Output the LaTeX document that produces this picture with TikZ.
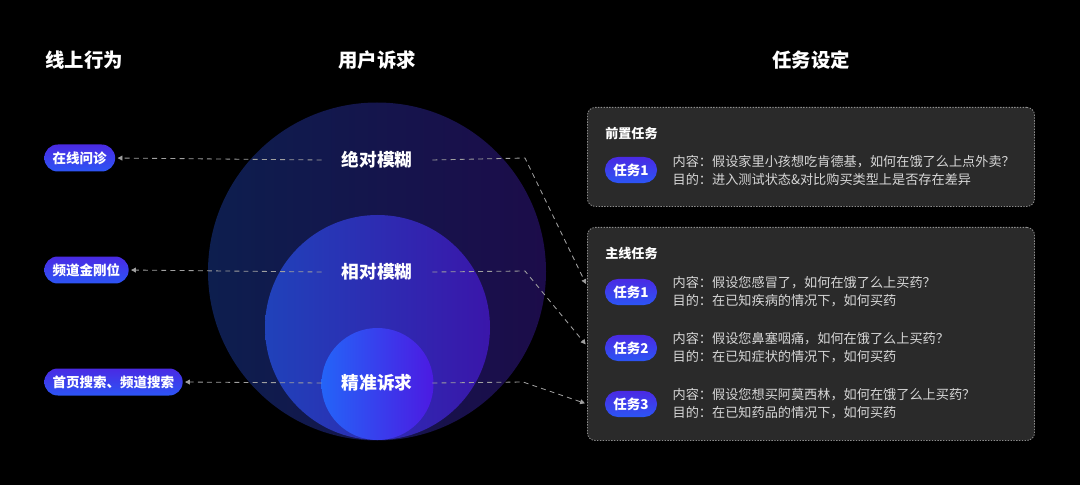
\documentclass[tikz,border=0pt]{standalone}
\usepackage{fontspec}
\setmainfont{Noto Sans CJK SC}
\usepackage{tikz}
\usetikzlibrary{positioning, arrows.meta, calc}
\definecolor{boxfill}{HTML}{2A2A2A}
\definecolor{boxline}{HTML}{8C8C8C}
\definecolor{dashgray}{HTML}{A0A0A0}
\definecolor{bodytext}{HTML}{D6D6D6}
\definecolor{pillTop}{HTML}{4A2AE4}
\definecolor{pillBot}{HTML}{2C55F4}
\tikzstyle{head}=[text=white, font=\fontsize{13.8}{16}\selectfont\bfseries]
\tikzstyle{ringlabel}=[text=white, inner xsep=14pt, inner ysep=0pt,
  font=\fontsize{12.6}{15}\selectfont\bfseries]
\tikzstyle{pill}=[rounded corners=9.6pt, minimum height=19.2pt, inner xsep=6pt,
  inner ysep=0pt, top color=pillTop, bottom color=pillBot, text=white,
  font=\fontsize{9.6}{11}\selectfont\bfseries]
\tikzstyle{taskpill}=[pill, minimum width=37pt, minimum height=18.5pt, rounded corners=9.2pt]
\tikzstyle{taskbox}=[draw=boxline, fill=boxfill, line width=0.6pt,
  dash pattern=on 1pt off 1pt, rounded corners=5.5pt, anchor=north west]
\tikzstyle{subhead}=[text=white, anchor=west, inner sep=0pt,
  font=\fontsize{9.3}{11}\selectfont\bfseries]
\tikzstyle{tasktext}=[text=bodytext, align=left, inner sep=0pt,
  font=\fontsize{9.36}{12.8}\selectfont]
\tikzstyle{dashline}=[draw=dashgray, line width=0.6pt, dash pattern=on 3.5pt off 3pt,
  -{Triangle[length=3.5pt,width=3.5pt]}, shorten >=1.5pt]

\begin{document}
\begin{tikzpicture}[x=0.025cm, y=-0.025cm]
      \fill[black] (0,0) rectangle (1080,485);

      % circles
      \shade[left color={rgb,255:red,13;green,30;blue,78}, right color={rgb,255:red,28;green,12;blue,74}]
        (377,271.5) circle (169);
      \shade[left color={rgb,255:red,32;green,66;blue,186}, right color={rgb,255:red,58;green,22;blue,170}]
        (377.5,327.5) circle (112.5);
      \shade[left color={rgb,255:red,36;green,100;blue,248}, right color={rgb,255:red,76;green,26;blue,226}]
        (377.5,384) circle (56);

      % headings
      \node[head] (h1) at (84,60) {线上行为};
      \node[head] (h2) at (377,60) {用户诉求};
      \node[head] (h3) at (811,60) {任务设定};

      \node[ringlabel] (abs) at (377,160) {绝对模糊};
      \node[ringlabel] (rel) at (377,272) {相对模糊};
      \node[ringlabel] (exact) at (377,383) {精准诉求};

      % online behaviour
      \node[pill, anchor=west] (online) at (44,158) {在线问诊};
      \node[pill, anchor=west] (channel) at (44,270) {频道金刚位};
      \node[pill, anchor=west] (search) at (44,382) {首页搜索、频道搜索};

      % task boxes
      \node[taskbox, minimum width=11.175cm, minimum height=2.475cm] (prebox) at (587,107) {};
      \node[taskbox, minimum width=11.175cm, minimum height=5.325cm] (mainbox) at (587,227) {};

      \node[subhead] (prehead) at (605,134) {前置任务};
      \node[taskpill] (pt1) at (631,170) {任务1};
      \node[tasktext, right=0.375cm of pt1] (ptx1) {内容：假设家里小孩想吃肯德基，如何在饿了么上点外卖？\\目的：进入测试状态\&对比购买类型上是否存在差异};

      \node[subhead] (mainhead) at (605,254) {主线任务};
      \node[taskpill] (mt1) at (631,292) {任务1};
      \node[taskpill] (mt2) at (631,348) {任务2};
      \node[taskpill] (mt3) at (631,404) {任务3};
      \node[tasktext, right=0.375cm of mt1] (mtx1) {内容：假设您感冒了，如何在饿了么上买药？\\目的：在已知疾病的情况下，如何买药};
      \node[tasktext, right=0.375cm of mt2] (mtx2) {内容：假设您鼻塞咽痛，如何在饿了么上买药？\\目的：在已知症状的情况下，如何买药};
      \node[tasktext, right=0.375cm of mt3] (mtx3) {内容：假设您想买阿莫西林，如何在饿了么上买药？\\目的：在已知药品的情况下，如何买药};

      % connectors
      \coordinate (k1) at (525,158);
      \coordinate (k2) at (525,271);
      \coordinate (k3) at (523,382);

      \draw[dashline] (abs.west) -- (online.east);
      \draw[dashline] (rel.west) -- (channel.east);
      \draw[dashline] (exact.west) -- (search.east);

      \draw[dashline] (abs.east) -- (k1) -- ($(mainbox.west |- mt1)+(0,-6)$);
      \draw[dashline] (rel.east) -- (k2) -- ($(mainbox.west |- mt2)+(0,-2)$);
      \draw[dashline] (exact.east) -- (k3) -- (mainbox.west |- mt3);
\end{tikzpicture}
\end{document}
